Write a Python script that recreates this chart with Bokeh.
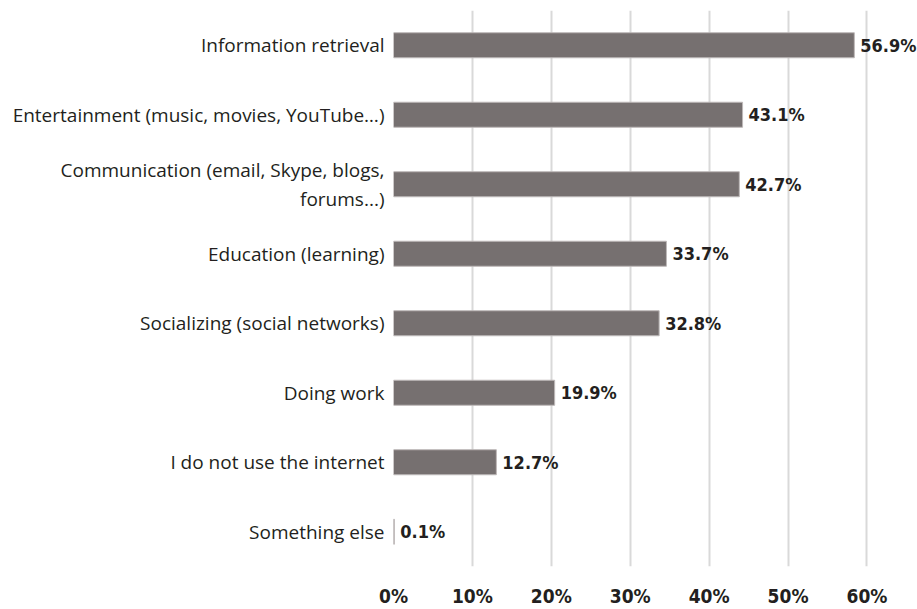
from bokeh.plotting import figure
from bokeh.models import Range1d, FactorRange, ColumnDataSource, FixedTicker, LinearAxis, Grid
from bokeh.core.properties import value
from bokeh.embed import file_html
from bokeh.resources import INLINE

categories = [
    "Information retrieval",
    "Entertainment (music, movies, YouTube\u2026)",
    "Communication (email, Skype, blogs,\nforums...)",
    "Education (learning)",
    "Socializing (social networks)",
    "Doing work",
    "I do not use the internet",
    "Something else",
]
values = [56.9, 43.1, 42.7, 33.7, 32.8, 19.9, 12.7, 0.1]
value_labels = ["56.9%", "43.1%", "42.7%", "33.7%", "32.8%", "19.9%", "12.7%", "0.1%"]
x_ticks = [0, 10, 20, 30, 40, 50, 60]
x_tick_labels = ["0%", "10%", "20%", "30%", "40%", "50%", "60%"]

COND = "'DejaVu Sans Condensed', 'Roboto Condensed', Roboto, sans-serif"

src = ColumnDataSource(dict(cat=categories, val=values, lab=value_labels))

p = figure(width=917, height=609, output_backend="svg", toolbar_location=None,
           y_range=FactorRange(factors=list(reversed(categories))),
           x_range=Range1d(0, 64.7), x_axis_location=None)
p.extra_x_ranges = {"grid": Range1d(0, 66.4)}
p.min_border_left = 393
p.min_border_right = 0
p.min_border_top = 10
p.min_border_bottom = 34
p.outline_line_color = None
p.background_fill_color = "white"
p.border_fill_color = "white"

p.xgrid.grid_line_color = None
p.ygrid.grid_line_color = None

xa = LinearAxis(x_range_name="grid", ticker=FixedTicker(ticks=x_ticks))
xa.major_label_overrides = {t: l for t, l in zip(x_ticks, x_tick_labels)}
xa.axis_line_color = None
xa.major_tick_line_color = None
xa.minor_tick_line_color = None
xa.major_label_text_font = COND
xa.major_label_text_font_style = "bold"
xa.major_label_text_font_size = "19px"
xa.major_label_text_color = "#231f20"
xa.major_label_standoff = 12
p.add_layout(xa, "below")

g = Grid(dimension=0, axis=xa, ticker=FixedTicker(ticks=x_ticks), x_range_name="grid",
         grid_line_color="#d9d9d9", grid_line_width=2)
p.add_layout(g)

p.hbar(y="cat", right="val", left=0, height=0.36, source=src,
       fill_color="#767070", line_color="#bdb8b8", line_width=1)

p.text(x="val", y="cat", text="lab", source=src, x_offset=6,
       text_baseline="middle", text_align="left",
       text_font=value(COND), text_font_style="bold",
       text_font_size="18px", text_color="#231f20")

ya = p.yaxis[0]
ya.axis_line_color = None
ya.major_tick_line_color = None
ya.minor_tick_line_color = None
ya.major_label_text_font = "Open Sans"
ya.major_label_text_font_size = "19px"
ya.major_label_text_color = "#231f20"
ya.major_label_text_line_height = 1.1
ya.major_label_standoff = 3

open("out.html", "w").write(file_html(p, INLINE))
